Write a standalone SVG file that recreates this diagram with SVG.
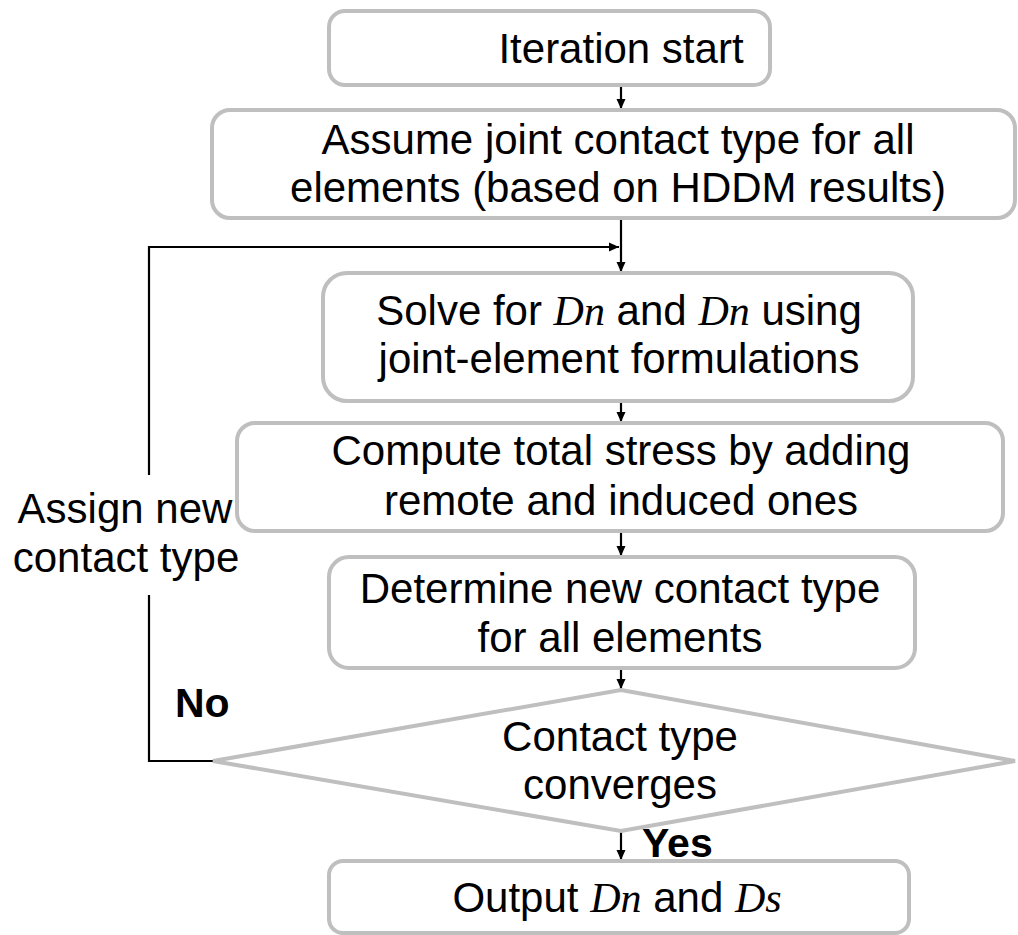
<svg xmlns="http://www.w3.org/2000/svg" width="1018" height="935" viewBox="0 0 1018 935">
<style>
.box{fill:#fff;stroke:#bfbfbf;stroke-width:4}
.t{font-family:"Liberation Sans",Arial,sans-serif;font-size:42px;fill:#000;text-anchor:middle}
.m{font-family:"Liberation Serif","Times New Roman",serif;font-style:italic}
.b{font-family:"Liberation Sans",Arial,sans-serif;font-size:41px;font-weight:bold;fill:#000}
.c{fill:none;stroke:#000;stroke-width:2.2}
</style>
<defs>
<marker id="ah" markerWidth="10" markerHeight="10" refX="10" refY="5" orient="auto" markerUnits="userSpaceOnUse">
<path d="M0,0.5 L10,5 L0,9.5 Z" fill="#000"/>
</marker>
</defs>
<rect width="1018" height="935" fill="#fff"/>
<g id="connectors">
<path class="c" d="M621,85 V109" marker-end="url(#ah)"/>
<path class="c" d="M621,218 V272" marker-end="url(#ah)"/>
<path class="c" d="M149,475 V247 H619" marker-end="url(#ah)"/>
<path class="c" d="M213,761 H149 V595"/>
<path class="c" d="M621,401 V422" marker-end="url(#ah)"/>
<path class="c" d="M621,531 V556" marker-end="url(#ah)"/>
<path class="c" d="M621,668 V689" marker-end="url(#ah)"/>
<path class="c" d="M621,831 V860" marker-end="url(#ah)"/>
</g>
<g id="n1">
<rect class="box" x="329" y="11" width="441" height="74" rx="16"/>
<text class="t" x="621" y="63">Iteration start</text>
</g>
<g id="n2">
<rect class="box" x="212" y="110" width="803" height="108" rx="18"/>
<text class="t" x="618" y="154">Assume joint contact type for all</text>
<text class="t" x="618" y="202">elements (based on HDDM results)</text>
</g>
<g id="n3">
<rect class="box" x="323" y="273" width="590" height="128" rx="24"/>
<text class="t" x="619" y="325">Solve for <tspan class="m">Dn</tspan> and <tspan class="m">Dn</tspan> using</text>
<text class="t" x="619" y="373">joint-element formulations</text>
</g>
<g id="n4">
<rect class="box" x="237" y="423" width="766" height="108" rx="18"/>
<text class="t" x="621" y="465">Compute total stress by adding</text>
<text class="t" x="621" y="515">remote and induced ones</text>
</g>
<g id="n5">
<rect class="box" x="329" y="557" width="586" height="111" rx="20"/>
<text class="t" x="620" y="603">Determine new contact type</text>
<text class="t" x="620" y="652">for all elements</text>
</g>
<g id="n6">
<polygon class="box" points="621,690 1015,761 621,831 213,761"/>
<text class="t" x="620" y="751">Contact type</text>
<text class="t" x="620" y="799">converges</text>
</g>
<g id="n7">
<rect class="box" x="329" y="861" width="580" height="72" rx="14"/>
<text class="t" x="617" y="912">Output <tspan class="m">Dn</tspan> and <tspan class="m">Ds</tspan></text>
</g>
<g id="labels">
<text class="t" x="125" y="523">Assign new</text>
<text class="t" x="126" y="572">contact type</text>
<text class="b" x="175" y="717">No</text>
<text class="b" x="642" y="857">Yes</text>
</g>
</svg>
